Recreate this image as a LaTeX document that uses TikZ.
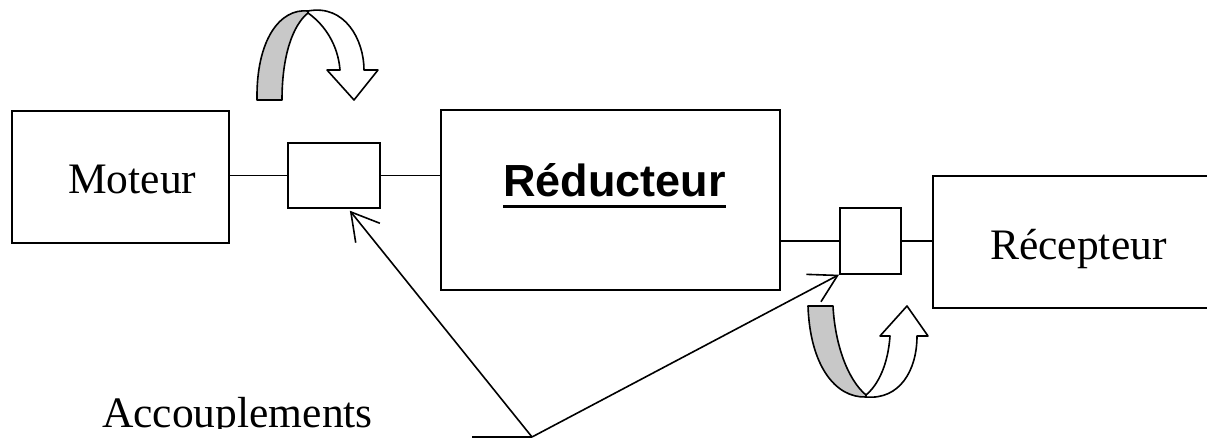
\documentclass[tikz,border=0pt]{standalone}
\usepackage{fontspec}
\setmainfont{Liberation Serif}
\newfontfamily\arialfont{Liberation Sans}
\usetikzlibrary{arrows.meta}
\definecolor{bandgray}{RGB}{200,200,200}
\begin{document}
\begin{tikzpicture}[x=1bp,y=-1bp,
  box/.style={draw, line width=1.7bp, inner sep=0, anchor=north west},
  conn/.style={line width=1.6bp},
  lbl/.style={inner sep=0, anchor=base west, font=\fontsize{43.5bp}{50bp}\selectfont},
  pointer/.style={line width=1.6bp, -{Straight Barb[length=27bp,width=31bp,line width=1.6bp]}},
  ribbon/.style={line width=1.6bp, line join=round}]
\useasboundingbox (0,0) rectangle (1207,439);
\clip (0,0) rectangle (1207,439);
% blocks
\node[box, minimum width=217bp, minimum height=132bp] (mot) at (11,110) {};
\node[box, minimum width=92bp, minimum height=65bp] (c1) at (287,142) {};
\node[box, minimum width=339bp, minimum height=180bp] (red) at (440,109) {};
\node[box, minimum width=61bp, minimum height=66bp] (c2) at (839,207) {};
\node[box, minimum width=300bp, minimum height=132bp] (rec) at (932,175) {};
% texts
\node[lbl] (tmot) at (68,194) {Moteur};
\node[lbl, font=\fontsize{45bp}{50bp}\selectfont\arialfont\bfseries] (tred) at (503,197) {Réducteur};
\draw[line width=3.5bp] ([yshift=-9.5bp]tred.base west) -- ([yshift=-9.5bp]tred.base east);
\node[lbl] (trec) at (990,260) {Récepteur};
\begin{scope}
\clip (0,0) rectangle (1207,429);
\node[lbl] (tacc) at (102,428) {Accouplements};
\end{scope}
% shafts
\draw[conn] (c1.west -| mot.east) -- (c1.west);
\draw[conn] (c1.east) -- (c1.east -| red.west);
\draw[conn] (c2.west -| red.east) -- (c2.west);
\draw[conn] (c2.east) -- (c2.east -| rec.west);
% pointers
\coordinate (v) at (532,437);
\coordinate (h) at (472,437);
\draw[conn] (h) -- (v);
\draw[pointer] (v) -- ([xshift=16bp,yshift=-2bp]c1.south);
\draw[pointer] (v) -- (c2.south west);
% top rotation arrow
\draw[ribbon, fill=bandgray] (257,100) .. controls (256,40) and (280,8) .. (308,11)
  -- (308,13) .. controls (293,25) and (282,55) .. (282,100) -- cycle;
\draw[ribbon, fill=white] (308,11) .. controls (345,4) and (364,40) .. (364,70)
  -- (378,70) -- (354,100) -- (327,70) -- (340,70)
  .. controls (338,45) and (325,25) .. (308,13) -- cycle;
% bottom rotation arrow
\draw[ribbon, fill=bandgray] (808,306) .. controls (810,365) and (835,398) .. (866,397)
  -- (866,395) .. controls (848,380) and (835,345) .. (833,306) -- cycle;
\draw[ribbon, fill=white] (866,397) .. controls (900,400) and (917,370) .. (917,336)
  -- (928,336) -- (907,306) -- (880,336) -- (890,336)
  .. controls (888,365) and (878,385) .. (866,395) -- cycle;
\end{tikzpicture}
\end{document}
